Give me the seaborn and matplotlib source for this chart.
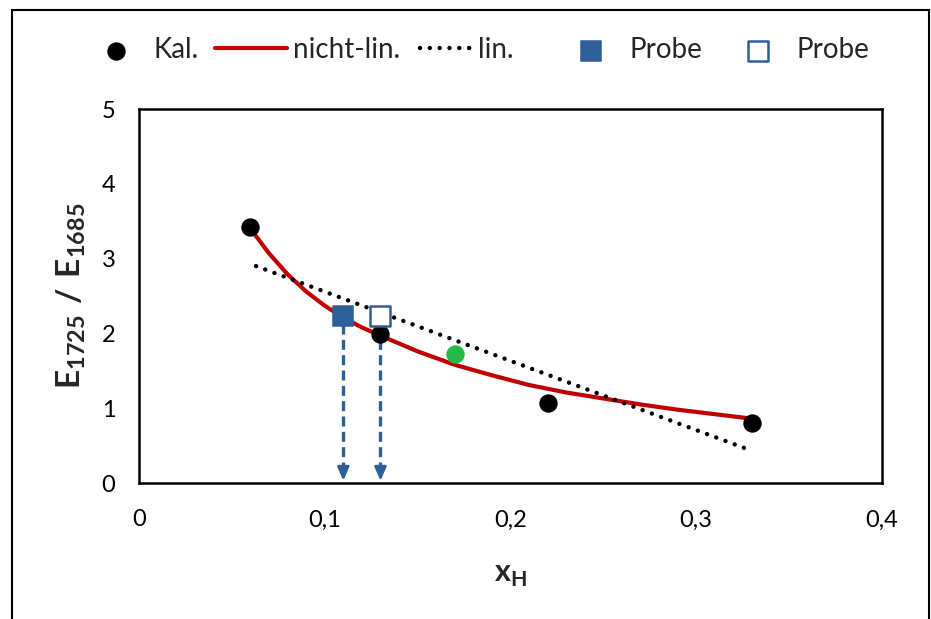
import matplotlib
matplotlib.use("Agg")
import matplotlib.pyplot as plt
from matplotlib.patches import Rectangle
from matplotlib.ticker import FuncFormatter
import seaborn as sns
import pandas as pd

# ---- data ----
kal_x = [0.06, 0.13, 0.22, 0.33]
kal_y = [3.42, 1.99, 1.07, 0.80]

green_x = [0.17]
green_y = [1.72]

nonlin_x = [0.06, 0.07, 0.08, 0.09, 0.10, 0.11, 0.12, 0.13, 0.15, 0.17,
            0.19, 0.21, 0.23, 0.25, 0.27, 0.29, 0.31, 0.33]
nonlin_y = [3.40, 3.07, 2.79, 2.56, 2.37, 2.21, 2.08, 1.97, 1.76, 1.58,
            1.44, 1.31, 1.21, 1.13, 1.05, 0.98, 0.92, 0.86]

lin_x = [0.063, 0.33]
lin_y = [2.90, 0.43]

probe_filled_x = [0.11]
probe_filled_y = [2.23]
probe_open_x = [0.13]
probe_open_y = [2.23]

x_ticks = [0, 0.1, 0.2, 0.3, 0.4]
y_ticks = [0, 1, 2, 3, 4, 5]

legend_labels = ["Kal.", "nicht-lin.", "lin.", "Probe", "Probe"]

RED = "#C00000"
BLUE = "#2F5F98"
GREEN = "#22BB4A"

sns.set_style("white")
plt.rcParams["font.family"] = ["Lato", "DejaVu Sans"]
plt.rcParams["mathtext.fontset"] = "custom"
plt.rcParams["mathtext.rm"] = "Lato"
plt.rcParams["mathtext.bf"] = "Lato:bold"

W, H = 931, 619
fig = plt.figure(figsize=(W / 100, H / 100), dpi=100)
ax = fig.add_axes([139 / W, 1 - 483 / H, (882 - 139) / W, (483 - 109) / H])

# figure border
fig.patches.append(Rectangle((12 / W, -0.01), (929 - 12) / W, 1 - 10 / H + 0.01,
                             transform=fig.transFigure, fill=False,
                             edgecolor="black", linewidth=1.5, zorder=0))

df_lin = pd.DataFrame({"x": lin_x, "y": lin_y})
df_nl = pd.DataFrame({"x": nonlin_x, "y": nonlin_y})
df_kal = pd.DataFrame({"x": kal_x, "y": kal_y})

sns.lineplot(data=df_lin, x="x", y="y", ax=ax, color="black", linestyle=(0, (0.01, 2.2)),
             linewidth=3.2, dash_capstyle="round", label="lin.", zorder=3, sort=False)
sns.lineplot(data=df_nl, x="x", y="y", ax=ax, color=RED, linewidth=3,
             label="nicht-lin.", zorder=2, sort=False)

# arrows from probes down to the x axis
for px, py in zip(probe_filled_x + probe_open_x, probe_filled_y + probe_open_y):
    ax.plot([px, px], [py - 0.1, 0.2], color=BLUE, linestyle=(0, (3, 1.6)),
            linewidth=2.4, zorder=1)
    ax.annotate("", xy=(px, 0.03), xytext=(px, 0.25),
                arrowprops=dict(arrowstyle="-|>,head_length=0.8,head_width=0.35",
                                color=BLUE, linewidth=2.0, shrinkA=0, shrinkB=0),
                zorder=1)

sns.scatterplot(data=df_kal, x="x", y="y", ax=ax, color="black", s=150,
                edgecolor="black", label="Kal.", zorder=4)
sns.scatterplot(x=green_x, y=green_y, ax=ax, color=GREEN, s=150,
                edgecolor=GREEN, zorder=4)
sns.scatterplot(x=probe_filled_x, y=probe_filled_y, ax=ax, marker="s", color=BLUE,
                s=190, edgecolor=BLUE, label="Probe", zorder=5)
sns.scatterplot(x=probe_open_x, y=probe_open_y, ax=ax, marker="s", facecolor="white",
                s=190, edgecolor=BLUE, linewidth=1.8, label="Probe ", zorder=5)

ax.set_xlim(0, 0.4)
ax.set_ylim(0, 5)
ax.set_xticks(x_ticks)
ax.set_yticks(y_ticks)
fmt = FuncFormatter(lambda v, p: ("%g" % v).replace(".", ","))
ax.xaxis.set_major_formatter(fmt)
ax.yaxis.set_major_formatter(fmt)
ax.tick_params(axis="both", direction="in", length=7, width=1.5, labelsize=17,
               colors="black")
ax.tick_params(axis="x", pad=19)
ax.tick_params(axis="y", pad=17)
for s in ax.spines.values():
    s.set_visible(True)
    s.set_color("black")
    s.set_linewidth(1.8)

ax.set_xlabel(r"$\mathbf{x}_{\mathbf{H}}$", fontsize=22, labelpad=22)
ax.set_ylabel(r"$\mathbf{E}_{\mathbf{1725}}\mathbf{\ /\ E}_{\mathbf{1685}}$",
              fontsize=24, labelpad=10)

# legend entries positioned individually, as in the reference
h, l = ax.get_legend_handles_labels()
hd = dict(zip(l, h))
keys = ["Kal.", "nicht-lin.", "lin.", "Probe", "Probe "]
lefts = [102, 215, 420, 577, 744]          # pixel x of handle left edge
hlens = [1.0, 2.6, 1.8, 1.0, 1.0]
pads = [0.85, 0.22, 0.29, 0.9, 0.9]
fs = 20
for k, lab, lx, hl, hp in zip(keys, legend_labels, lefts, hlens, pads):
    fig.legend([hd[k]], [lab], loc="center left", bbox_to_anchor=(lx / W, 1 - 50 / H),
               frameon=False, fontsize=fs, handlelength=hl, handletextpad=hp,
               borderpad=0, borderaxespad=0)
if ax.get_legend() is not None:
    ax.get_legend().remove()

fig.savefig("out.png", dpi=100)
